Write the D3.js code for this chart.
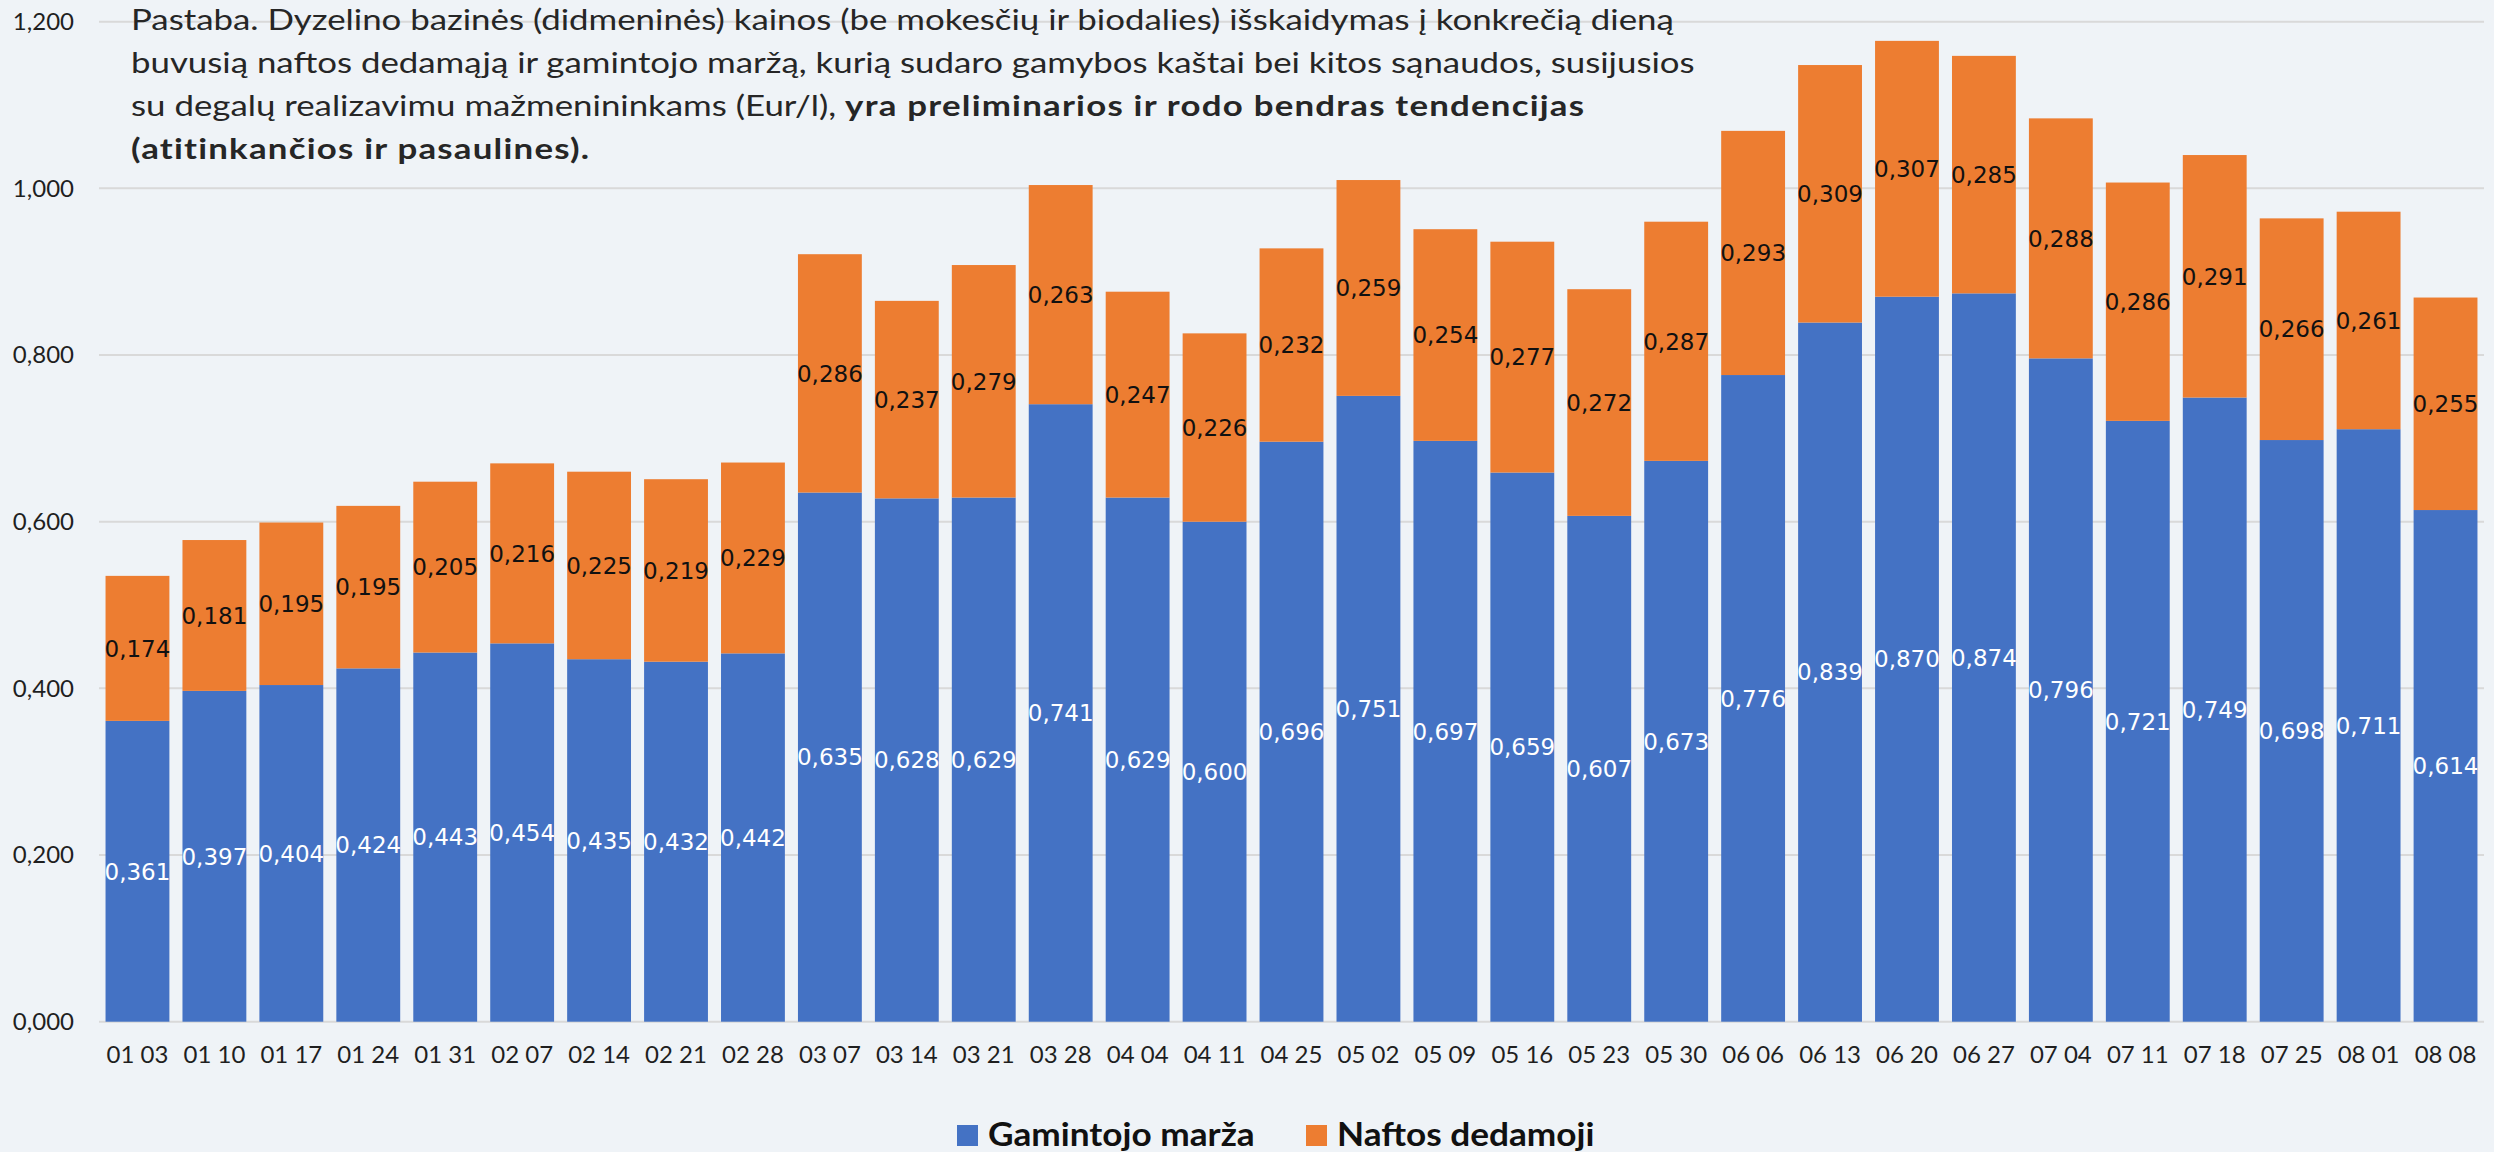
<!DOCTYPE html>
<html>
<head>
<meta charset="utf-8">
<script src="https://cdn.jsdelivr.net/npm/d3@7"></script>
<style>
  html, body { margin: 0; padding: 0; background: #eff3f7; }
  svg { display: block; }
  .axis text { font-family: Lato, "Open Sans", sans-serif; font-size: 24px; fill: #1f1f1f; }
  .label { font-family: "DejaVu Sans", sans-serif; font-size: 23px; }
</style>
</head>
<body>
<div id="chart"></div>
<script>
// data
const categories = ["01 03", "01 10", "01 17", "01 24", "01 31", "02 07", "02 14", "02 21", "02 28",
  "03 07", "03 14", "03 21", "03 28", "04 04", "04 11", "04 25", "05 02", "05 09", "05 16", "05 23",
  "05 30", "06 06", "06 13", "06 20", "06 27", "07 04", "07 11", "07 18", "07 25", "08 01", "08 08"];
const margaValues = [0.361, 0.397, 0.404, 0.424, 0.443, 0.454, 0.435, 0.432, 0.442,
  0.635, 0.628, 0.629, 0.741, 0.629, 0.600, 0.696, 0.751, 0.697, 0.659, 0.607,
  0.673, 0.776, 0.839, 0.870, 0.874, 0.796, 0.721, 0.749, 0.698, 0.711, 0.614];
const naftaValues = [0.174, 0.181, 0.195, 0.195, 0.205, 0.216, 0.225, 0.219, 0.229,
  0.286, 0.237, 0.279, 0.263, 0.247, 0.226, 0.232, 0.259, 0.254, 0.277, 0.272,
  0.287, 0.293, 0.309, 0.307, 0.285, 0.288, 0.286, 0.291, 0.266, 0.261, 0.255];
const yTicks = [0, 0.2, 0.4, 0.6, 0.8, 1.0, 1.2];
const seriesNames = ["Gamintojo marža", "Naftos dedamoji"];
const seriesColors = ["#4472c4", "#ed7d31"];
const titleLines = [
  [["Pastaba. Dyzelino bazinės (didmeninės) kainos (be mokesčių ir biodalies) išskaidymas į konkrečią dieną", false]],
  [["buvusią naftos dedamąją ir gamintojo maržą, kurią sudaro gamybos kaštai bei kitos sąnaudos, susijusios", false]],
  [["su degalų realizavimu mažmenininkams (Eur/l), ", false], ["yra preliminarios ir rodo bendras tendencijas", true]],
  [["(atitinkančios ir pasaulines).", true]]
];

const W = 2494, H = 1152;
const margin = {top: 21.7, right: 10, bottom: 130.3, left: 99};
const width = W - margin.left - margin.right,
  height = H - margin.top - margin.bottom;

const fmt = (v) => d3.format(".3f")(v).replace(".", ",");

const rows = categories.map((c, i) => ({cat: c, marza: margaValues[i], nafta: naftaValues[i]}));
const stack = d3.stack().keys(["marza", "nafta"])(rows);

const svg = d3.select("#chart")
  .append("svg")
  .attr("width", W)
  .attr("height", H);

const g = svg.append("g")
  .attr("transform", "translate(" + margin.left + "," + margin.top + ")");

const x = d3.scaleBand()
  .domain(categories)
  .range([0, width])
  .paddingInner(0.17)
  .paddingOuter(0.085);

const y = d3.scaleLinear()
  .domain([0, 1.2])
  .range([height, 0]);

// gridlines
g.append("g")
  .selectAll("line")
  .data(yTicks)
  .enter().append("line")
  .attr("x1", 0)
  .attr("x2", width)
  .attr("y1", (d) => y(d))
  .attr("y2", (d) => y(d))
  .attr("stroke", "#d9d9d9")
  .attr("stroke-width", 2);

// y axis labels
const yAxis = d3.axisLeft(y).tickValues(yTicks).tickFormat(fmt).tickSize(0).tickPadding(25);
g.append("g")
  .attr("class", "axis")
  .call(yAxis)
  .call((s) => s.select(".domain").remove());

// x axis labels
const xAxis = d3.axisBottom(x).tickSize(0).tickPadding(24);
g.append("g")
  .attr("class", "axis")
  .attr("transform", "translate(0," + height + ")")
  .call(xAxis)
  .call((s) => s.select(".domain").remove());

// bars
const layers = g.selectAll(".layer")
  .data(stack)
  .enter().append("g")
  .attr("class", "layer")
  .attr("fill", (d, i) => seriesColors[i]);

layers.selectAll("rect")
  .data((d) => d)
  .enter().append("rect")
  .attr("x", (d) => x(d.data.cat))
  .attr("y", (d) => y(d[1]))
  .attr("width", x.bandwidth())
  .attr("height", (d) => y(d[0]) - y(d[1]));

// value labels
layers.selectAll("text")
  .data((d) => d)
  .enter().append("text")
  .attr("class", "label")
  .attr("x", (d) => x(d.data.cat) + x.bandwidth() / 2)
  .attr("y", (d) => y((d[0] + d[1]) / 2))
  .attr("dy", "0.36em")
  .attr("text-anchor", "middle")
  .attr("fill", function () { return d3.select(this.parentNode).datum().key === "marza" ? "#ffffff" : "#111111"; })
  .text((d) => fmt(d[1] - d[0]));

// note in the top-left (the original text is a bit wider than Lato, so stretch it)
const note = svg.append("g")
  .attr("transform", "translate(131,0) scale(1.222,1)")
  .append("text")
  .attr("font-family", "Lato, 'Open Sans', sans-serif")
  .attr("font-size", 28.5)
  .attr("fill", "#262626");
titleLines.forEach((line, i) => {
  const t = note.append("tspan")
    .attr("x", 0)
    .attr("y", 30 + i * 43);
  line.forEach(([str, bold], j) => {
    const span = j === 0 ? t : note.append("tspan");
    span.text(str)
      .attr("font-weight", bold ? 700 : 400)
      .attr("letter-spacing", bold ? 1 : 0);
  });
});

// legend
const legendX = [957, 1306];
seriesNames.forEach((name, i) => {
  svg.append("rect")
    .attr("x", legendX[i])
    .attr("y", 1125)
    .attr("width", 21)
    .attr("height", 21)
    .attr("fill", seriesColors[i]);
  svg.append("g")
    .attr("transform", "translate(" + (legendX[i] + 31) + ",1146) scale(1.1,1)")
    .append("text")
    .attr("font-family", "Lato, 'Open Sans', sans-serif")
    .attr("font-size", 32)
    .attr("font-weight", 700)
    .attr("fill", "#111111")
    .text(name);
});
</script>
</body>
</html>
